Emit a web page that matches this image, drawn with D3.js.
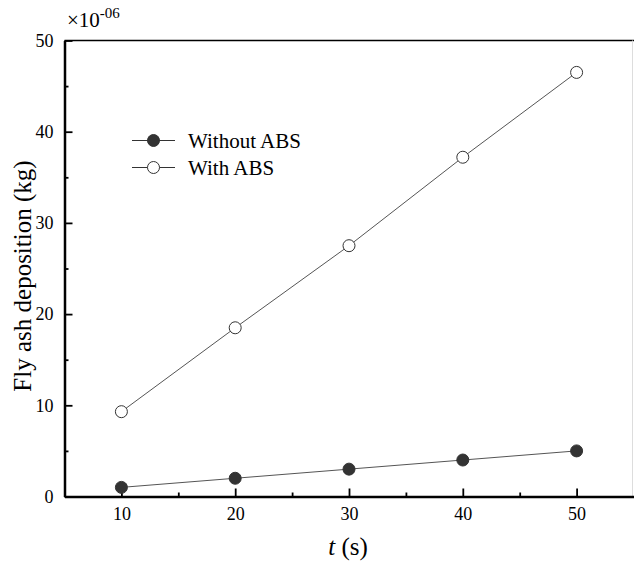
<!DOCTYPE html>
<html>
<head>
<meta charset="utf-8">
<script src="https://cdn.jsdelivr.net/npm/d3@7"></script>
<style>
  body { margin: 0; background: #fff; }
  svg { display: block; }
  svg text { font-family: "Liberation Serif", "DejaVu Serif", serif !important; fill: #000; }
</style>
</head>
<body>
<svg id="chart" width="634" height="565"></svg>
<script>
const times = [10, 20, 30, 40, 50];
const withoutABS = [1.0, 2.0, 3.0, 4.0, 5.0];
const withABS = [9.3, 18.5, 27.5, 37.2, 46.5];
const xTicks = [10, 20, 30, 40, 50];
const yTicks = [0, 10, 20, 30, 40, 50];

const svg = d3.select("#chart");
const plotLeft = 64.5, plotRight = 633.5, plotTop = 40.5, plotBottom = 496.5;

const x = d3.scaleLinear().domain([5, 55]).range([plotLeft, plotRight]);
const y = d3.scaleLinear().domain([0, 50]).range([plotBottom, plotTop]);

// frame: top line + faint right edge
svg.append("line")
  .attr("x1", plotLeft).attr("x2", 634).attr("y1", plotTop).attr("y2", plotTop)
  .attr("stroke", "#000").attr("stroke-width", 1.5);
svg.append("line")
  .attr("x1", plotRight - 1).attr("x2", plotRight - 1).attr("y1", plotTop).attr("y2", plotBottom)
  .attr("stroke", "#ddd").attr("stroke-width", 1);

// x axis, ticks inside
const xAxis = svg.append("g")
  .attr("transform", `translate(0,${plotBottom})`)
  .call(d3.axisBottom(x).tickValues(xTicks).tickSizeInner(-8).tickSizeOuter(0).tickPadding(11));
xAxis.selectAll("text").style("font-size", "18px");
xAxis.select(".domain").attr("stroke-width", 2.5);
xAxis.selectAll(".tick line").attr("stroke-width", 1.8);
svg.append("g")
  .attr("transform", `translate(0,${plotBottom})`)
  .call(d3.axisBottom(x).tickValues([15, 25, 35, 45]).tickSizeInner(-4).tickSizeOuter(0).tickFormat(""))
  .call(g => g.select(".domain").remove())
  .selectAll(".tick line").attr("stroke-width", 1.8);

// y axis, ticks inside
const yAxis = svg.append("g")
  .attr("transform", `translate(${plotLeft},0)`)
  .call(d3.axisLeft(y).tickValues(yTicks).tickSizeInner(-8).tickSizeOuter(0).tickPadding(11));
yAxis.selectAll("text").style("font-size", "18px");
yAxis.select(".domain").attr("stroke-width", 2.5);
yAxis.selectAll(".tick line").attr("stroke-width", 1.8);
svg.append("g")
  .attr("transform", `translate(${plotLeft},0)`)
  .call(d3.axisLeft(y).tickValues([5, 15, 25, 35, 45]).tickSizeInner(-4).tickSizeOuter(0).tickFormat(""))
  .call(g => g.select(".domain").remove())
  .selectAll(".tick line").attr("stroke-width", 1.8);

// exponent label
const expo = svg.append("text")
  .attr("x", 67).attr("y", 27)
  .style("font-size", "21px");
expo.append("tspan").text("\u00d710");
expo.append("tspan").attr("dy", -9).style("font-size", "15px").text("-06");

// axis titles
const xt = svg.append("text")
  .attr("x", 348).attr("y", 555)
  .attr("text-anchor", "middle").style("font-size", "25px");
xt.append("tspan").style("font-style", "italic").text("t");
xt.append("tspan").text(" (s)");

svg.append("text")
  .attr("transform", "translate(31,276) rotate(-90)")
  .attr("text-anchor", "middle").style("font-size", "25px")
  .text("Fly ash deposition (kg)");

// series
const series = [
  { name: "Without ABS", values: withoutABS, fill: "#333333" },
  { name: "With ABS", values: withABS, fill: "#ffffff" }
];

const line = d3.line().x(d => x(d[0])).y(d => y(d[1]));

series.forEach(s => {
  const pts = times.map((t, i) => [t, s.values[i]]);
  svg.append("path")
    .datum(pts)
    .attr("d", line)
    .attr("fill", "none")
    .attr("stroke", "#555")
    .attr("stroke-width", 1);
  svg.selectAll(null)
    .data(pts)
    .enter()
    .append("circle")
    .attr("cx", d => x(d[0]))
    .attr("cy", d => y(d[1]))
    .attr("r", 6)
    .attr("fill", s.fill)
    .attr("stroke", "#333")
    .attr("stroke-width", 1);
});

// legend
const legend = svg.append("g");
series.forEach((s, i) => {
  const ly = 140.5 + i * 27;
  legend.append("line")
    .attr("x1", 132).attr("x2", 175).attr("y1", ly).attr("y2", ly)
    .attr("stroke", "#333").attr("stroke-width", 1);
  legend.append("circle")
    .attr("cx", 153.5).attr("cy", ly).attr("r", 6)
    .attr("fill", s.fill).attr("stroke", "#333").attr("stroke-width", 1);
  legend.append("text")
    .attr("x", 188).attr("y", ly + 7.5)
    .style("font-size", "21px")
    .text(s.name);
});
</script>
</body>
</html>
